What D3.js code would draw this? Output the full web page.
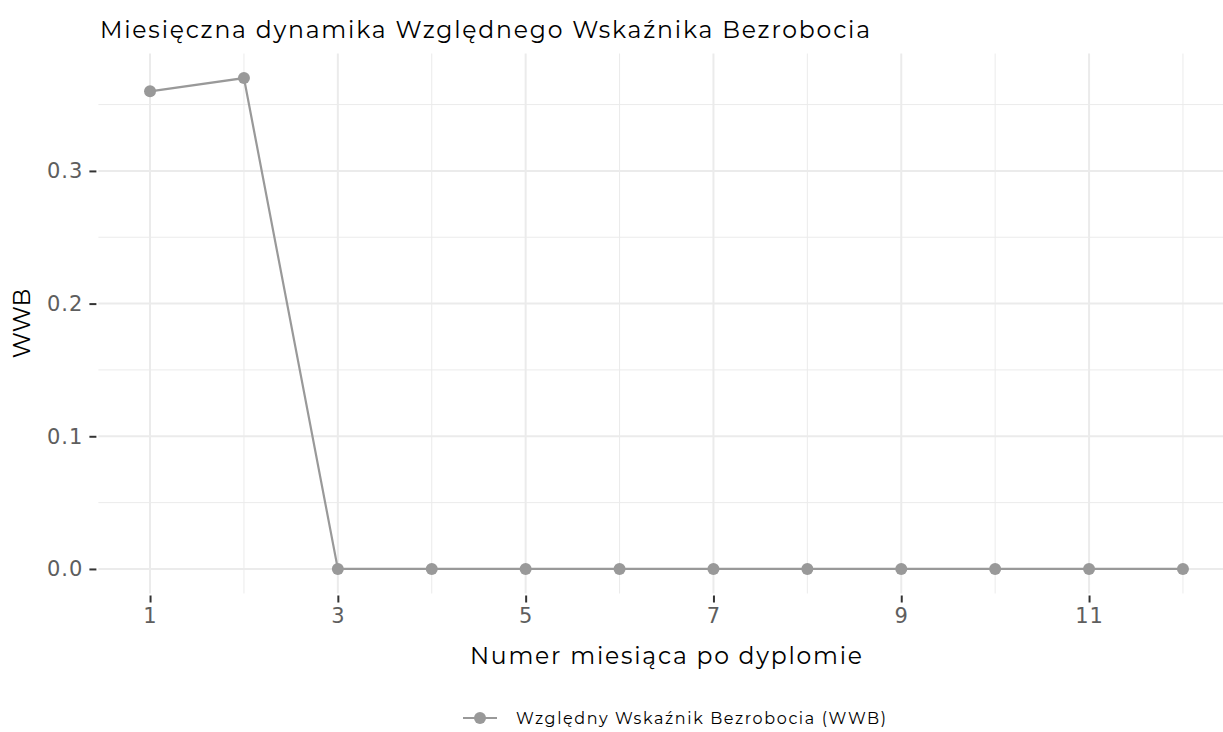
<!DOCTYPE html>
<html>
<head>
<meta charset="utf-8">
<script src="https://cdn.jsdelivr.net/npm/d3@7"></script>
<style>
  body { margin: 0; background: #fff; }
  svg { display: block; font-family: "Montserrat", "DejaVu Sans", sans-serif; }
</style>
</head>
<body>
<div id="container"></div>
<script>
window.onload = function() {
    'use strict';

    // dane
    const months = [1, 2, 3, 4, 5, 6, 7, 8, 9, 10, 11, 12];
    const wwb = [0.36, 0.37, 0, 0, 0, 0, 0, 0, 0, 0, 0, 0];
    const xTicks = [1, 3, 5, 7, 9, 11];
    const yTicks = [0, 0.1, 0.2, 0.3];
    const seriesName = 'Względny Wskaźnik Bezrobocia (WWB)';

    const canvas = { width: 1223, height: 732 };
    const panel = { left: 98.4, right: 1234.6, top: 53.5, bottom: 593.5 };

    const color = {
        grid: '#ebebeb',
        series: '#999999',
        axisText: '#5e5e5e',
        tick: '#333333',
        title: '#000000'
    };

    const svg = d3.select('#container')
        .append('svg')
        .attr('width', canvas.width)
        .attr('height', canvas.height);

    const x = d3.scaleLinear()
        .domain([0.45, 12.55])
        .range([panel.left, panel.right]);

    const y = d3.scaleLinear()
        .domain([-0.0185, 0.3885])
        .range([panel.bottom, panel.top]);

    // siatka pomocnicza
    const yMinor = [0.05, 0.15, 0.25, 0.35];
    const xMinor = [2, 4, 6, 8, 10, 12];

    const grid = svg.append('g');
    grid.selectAll('.ymin').data(yMinor).enter().append('line')
        .attr('x1', panel.left).attr('x2', panel.right)
        .attr('y1', d => y(d)).attr('y2', d => y(d))
        .attr('stroke', color.grid).attr('stroke-width', 1);
    grid.selectAll('.xmin').data(xMinor).enter().append('line')
        .attr('y1', panel.top).attr('y2', panel.bottom)
        .attr('x1', d => x(d)).attr('x2', d => x(d))
        .attr('stroke', color.grid).attr('stroke-width', 1);
    grid.selectAll('.ymaj').data(yTicks).enter().append('line')
        .attr('x1', panel.left).attr('x2', panel.right)
        .attr('y1', d => y(d)).attr('y2', d => y(d))
        .attr('stroke', color.grid).attr('stroke-width', 2);
    grid.selectAll('.xmaj').data(xTicks).enter().append('line')
        .attr('y1', panel.top).attr('y2', panel.bottom)
        .attr('x1', d => x(d)).attr('x2', d => x(d))
        .attr('stroke', color.grid).attr('stroke-width', 2);

    // osie
    const xAxis = d3.axisBottom(x)
        .tickValues(xTicks)
        .tickSize(7)
        .tickPadding(6)
        .tickFormat(d3.format('d'));
    const gx = svg.append('g')
        .attr('transform', `translate(0,${panel.bottom + 2})`)
        .call(xAxis);
    gx.select('.domain').remove();
    gx.selectAll('line').attr('stroke', color.tick).attr('stroke-width', 2);
    gx.selectAll('text')
        .attr('fill', color.axisText)
        .attr('font-size', 21)
        .attr('font-family', '"DejaVu Sans", sans-serif')
        .attr('letter-spacing', 1);

    const yAxis = d3.axisLeft(y)
        .tickValues(yTicks)
        .tickSize(7)
        .tickPadding(6)
        .tickFormat(d3.format('.1f'));
    const gy = svg.append('g')
        .attr('transform', `translate(${panel.left - 2},0)`)
        .call(yAxis);
    gy.select('.domain').remove();
    gy.selectAll('line').attr('stroke', color.tick).attr('stroke-width', 2);
    gy.selectAll('text')
        .attr('fill', color.axisText)
        .attr('font-size', 21)
        .attr('font-family', '"DejaVu Sans", sans-serif')
        .attr('letter-spacing', 1);

    // seria
    const data = months.map((m, i) => ({ m: m, v: wwb[i] }));
    const line = d3.line().x(d => x(d.m)).y(d => y(d.v));

    svg.append('path')
        .datum(data)
        .attr('d', line)
        .attr('fill', 'none')
        .attr('stroke', color.series)
        .attr('stroke-width', 2.2);

    svg.selectAll('.pt').data(data).enter().append('circle')
        .attr('cx', d => x(d.m))
        .attr('cy', d => y(d.v))
        .attr('r', 6)
        .attr('fill', color.series);

    // tytuły
    svg.append('text')
        .attr('x', 100).attr('y', 38)
        .attr('font-size', 23.5)
        .attr('fill', color.title)
        .attr('textLength', 770)
        .attr('lengthAdjust', 'spacing')
        .text('Miesięczna dynamika Względnego Wskaźnika Bezrobocia');

    svg.append('text')
        .attr('x', 470)
        .attr('y', 664)
        .attr('font-size', 23.5)
        .attr('fill', color.title)
        .attr('textLength', 392)
        .attr('lengthAdjust', 'spacing')
        .text('Numer miesiąca po dyplomie');

    svg.append('text')
        .attr('transform', `translate(30,${(panel.top + panel.bottom) / 2}) rotate(-90)`)
        .attr('text-anchor', 'middle')
        .attr('font-size', 23.5)
        .attr('fill', color.title)
        .text('WWB');

    // legenda
    const leg = svg.append('g').attr('transform', 'translate(463,718)');
    leg.append('line')
        .attr('x1', 0).attr('x2', 34)
        .attr('stroke', color.series).attr('stroke-width', 2.2);
    leg.append('circle')
        .attr('cx', 17).attr('r', 6).attr('fill', color.series);
    leg.append('text')
        .attr('x', 53).attr('y', 6)
        .attr('font-size', 16)
        .attr('fill', color.title)
        .attr('textLength', 370)
        .attr('lengthAdjust', 'spacing')
        .text(seriesName);
};
</script>
</body>
</html>
